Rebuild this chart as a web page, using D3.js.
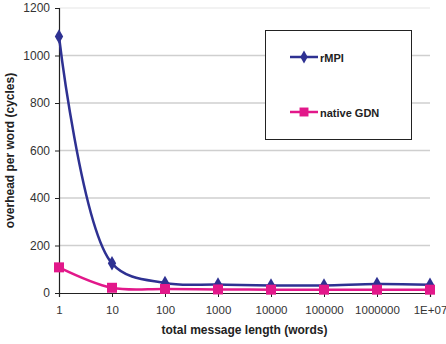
<!DOCTYPE html>
<html>
<head>
<meta charset="utf-8">
<script src="https://cdn.jsdelivr.net/npm/d3@7"></script>
<style>
  body { margin: 0; background: #fff; }
  text { font-family: "Liberation Sans", Arial, sans-serif; }
</style>
</head>
<body>
<div id="chart"></div>
<script>
const categories = ['1', '10', '100', '1000', '10000', '100000', '1000000', '1E+07']
const rmpi = [1080, 125, 42, 36, 32, 32, 38, 35]
const nativeGdn = [108, 22, 17, 15, 14, 14, 14, 14]
const yTicks = [0, 200, 400, 600, 800, 1000, 1200]

const W = 446, H = 344
const M = { top: 8, right: 16, bottom: 51, left: 59 }

const svg = d3.select('#chart').append('svg').attr('width', W).attr('height', H)

// ── Scales ───────────────────────────────────────────────
const x = d3.scalePoint().domain(categories).range([M.left, W - M.right])
const y = d3.scaleLinear().domain([0, 1200]).range([H - M.bottom, M.top])

// ── Grid ─────────────────────────────────────────────────
svg.append('g').selectAll('line')
  .data(yTicks.filter(d => d > 0))
  .join('line')
  .attr('x1', M.left).attr('x2', W - M.right)
  .attr('y1', d => y(d)).attr('y2', d => y(d))
  .attr('stroke', d => d === 1200 ? '#eeeeee' : '#cfcfcf')
  .attr('stroke-width', 1.5)

// ── Axes ─────────────────────────────────────────────────
const yAxis = svg.append('g')
  .attr('transform', `translate(${M.left},0)`)
  .call(d3.axisLeft(y).tickValues(yTicks).tickFormat(d3.format('d')).tickSize(4).tickPadding(5))
yAxis.select('.domain').attr('stroke', '#222').attr('stroke-width', 1.2)
yAxis.selectAll('.tick line').attr('stroke', '#222')
yAxis.selectAll('.tick text').attr('font-size', 12).attr('fill', '#333')

const xAxis = svg.append('g')
  .attr('transform', `translate(0,${y(0)})`)
  .call(d3.axisBottom(x).tickSize(4).tickPadding(9))
xAxis.select('.domain').attr('stroke', '#222').attr('stroke-width', 1.2)
xAxis.selectAll('.tick line').attr('stroke', '#222')
xAxis.selectAll('.tick text').attr('font-size', 11.5).attr('fill', '#333')

// ── Titles ───────────────────────────────────────────────
svg.append('text')
  .attr('x', (M.left + W - M.right) / 2).attr('y', 334)
  .attr('text-anchor', 'middle').attr('font-size', 12).attr('font-weight', 'bold').attr('fill', '#222')
  .text('total message length (words)')

svg.append('text')
  .attr('transform', `translate(14,${(M.top + H - M.bottom) / 2}) rotate(-90)`)
  .attr('text-anchor', 'middle').attr('font-size', 12).attr('font-weight', 'bold').attr('fill', '#222')
  .text('overhead per word (cycles)')

// ── Series ───────────────────────────────────────────────
const series = [
  { name: 'rMPI', values: rmpi, color: '#2e3192', symbol: d3.symbolDiamond, size: 60 },
  { name: 'native GDN', values: nativeGdn, color: '#e2188a', symbol: d3.symbolSquare, size: 100 }
]

const line = d3.line()
  .x((d, i) => x(categories[i]))
  .y(d => y(d))
  .curve(d3.curveCatmullRom.alpha(0.5))

series.forEach(s => {
  svg.append('path')
    .datum(s.values)
    .attr('d', line)
    .attr('fill', 'none')
    .attr('stroke', s.color)
    .attr('stroke-width', 2.5)

  svg.append('g').selectAll('path')
    .data(s.values)
    .join('path')
    .attr('transform', (d, i) => `translate(${x(categories[i])},${y(d)})`)
    .attr('d', d3.symbol().type(s.symbol).size(s.size))
    .attr('fill', s.color)
})

// ── Legend ───────────────────────────────────────────────
svg.append('rect')
  .attr('x', 265.5).attr('y', 30.5).attr('width', 146).attr('height', 109)
  .attr('fill', '#fff').attr('stroke', '#222').attr('stroke-width', 1)

const legendY = [57, 112]
series.forEach((s, i) => {
  const g = svg.append('g').attr('transform', `translate(290,${legendY[i]})`)
  g.append('line').attr('x1', 0).attr('x2', 28).attr('stroke', s.color).attr('stroke-width', 2.5)
  g.append('path').attr('transform', 'translate(14,0)')
    .attr('d', d3.symbol().type(s.symbol).size(s.size * 0.8)).attr('fill', s.color)
  g.append('text').attr('x', 30).attr('y', 4.5)
    .attr('font-size', 11).attr('font-weight', 'bold').attr('fill', '#222')
    .text(s.name)
})
</script>
</body>
</html>
